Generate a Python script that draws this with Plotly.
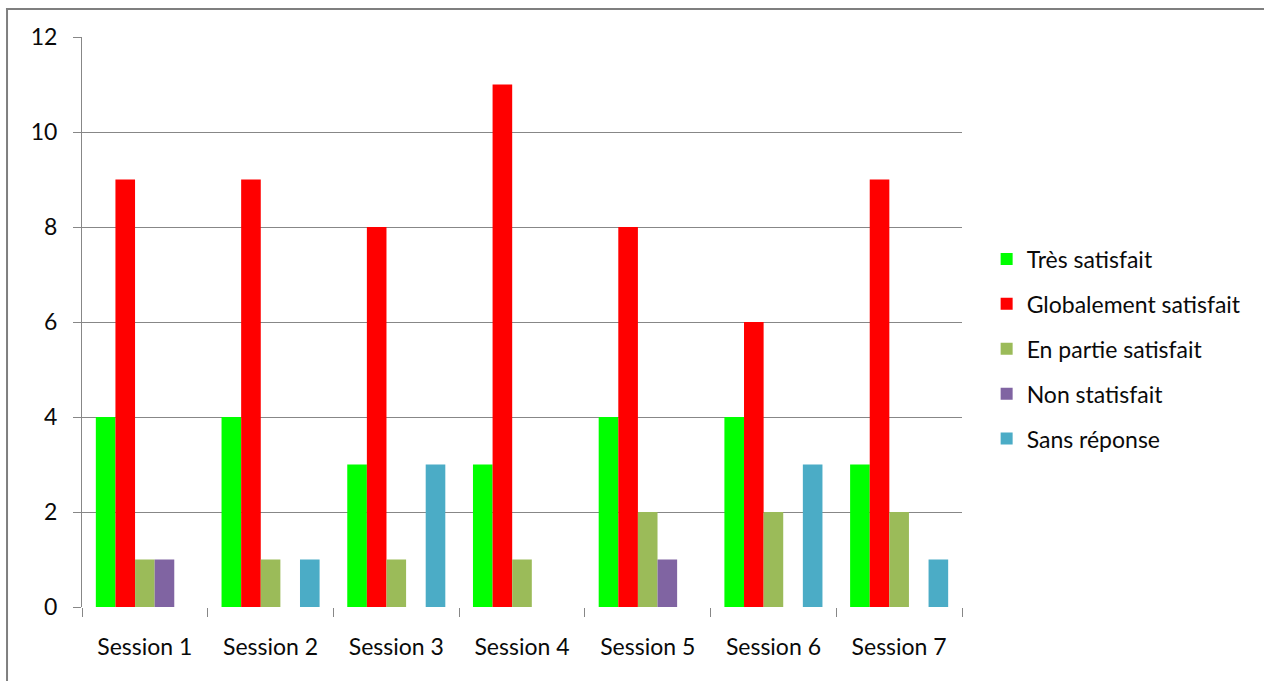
import plotly.graph_objects as go

sessions = ["Session 1", "Session 2", "Session 3", "Session 4", "Session 5", "Session 6", "Session 7"]
tres_satisfait = [4, 4, 3, 3, 4, 4, 3]
globalement_satisfait = [9, 9, 8, 11, 8, 6, 9]
en_partie_satisfait = [1, 1, 1, 1, 2, 2, 2]
non_satisfait = [1, 0, 0, 0, 1, 0, 0]
sans_reponse = [0, 1, 3, 0, 0, 3, 1]

series = [
    ("Très satisfait", tres_satisfait, "#00FF00"),
    ("Globalement satisfait", globalement_satisfait, "#FF0000"),
    ("En partie satisfait", en_partie_satisfait, "#9BBB59"),
    ("Non statisfait", non_satisfait, "#8064A2"),
    ("Sans réponse", sans_reponse, "#4BACC6"),
]

FONT = "Lato"
TXT = "#0a0a0a"
fig = go.Figure()
for i, (name, vals, col) in enumerate(series):
    fig.add_trace(go.Bar(x=sessions, y=vals, name=name, marker=dict(color=col, line=dict(width=0)),
                         legendgroup=f"g{i}"))

grid = "#878787"
fig.update_layout(
    width=1264, height=681,
    margin=dict(l=82, r=302, t=37, b=74),
    paper_bgcolor="white", plot_bgcolor="white",
    barmode="group", bargap=0.22, bargroupgap=0,
    font=dict(family=FONT, size=23, color=TXT),
    showlegend=True,
    legend=dict(x=1.028, xanchor="left", y=0.4526, yanchor="middle",
                font=dict(family=FONT, size=23, color=TXT),
                traceorder="grouped", tracegroupgap=12,
                bgcolor="rgba(0,0,0,0)", itemwidth=30),
    xaxis=dict(type="category", tickson="boundaries", ticks="outside", ticklen=9,
               tickcolor=grid, tickwidth=1, showgrid=False, zeroline=False,
               showline=True, linecolor="white", linewidth=1,
               ticklabelstandoff=19, tickfont=dict(family=FONT, size=23, color=TXT)),
    yaxis=dict(range=[0, 12], dtick=2, tick0=0, ticks="outside", ticklen=8,
               tickcolor=grid, tickwidth=1, showgrid=True, gridcolor=grid, gridwidth=1,
               zeroline=False, showline=True, linecolor=grid, linewidth=1,
               ticklabelstandoff=11, tickfont=dict(family=FONT, size=23, color=TXT)),
    shapes=[
        dict(type="line", xref="paper", yref="paper", x0=-0.0852, x1=-0.0852, y0=1.049, y1=-0.14,
             line=dict(color="#7f7f7f", width=2)),
        dict(type="line", xref="paper", yref="paper", x0=-0.0864, x1=1.35, y0=1.049, y1=1.049,
             line=dict(color="#7f7f7f", width=2)),
    ],
)

fig.write_html("out.html", config={"displayModeBar": False},
               post_script="document.body.style.margin='0';")
